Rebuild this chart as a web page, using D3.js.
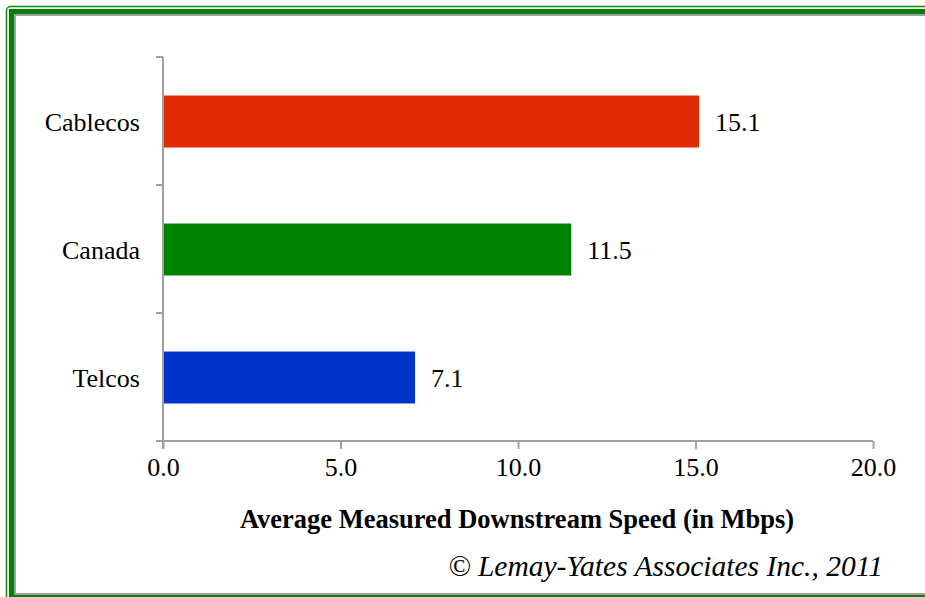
<!DOCTYPE html>
<html>
<head>
<meta charset="utf-8">
<script src="https://cdn.jsdelivr.net/npm/d3@7"></script>
<style>
  html, body { margin: 0; padding: 0; background: #fff; }
  svg { display: block; }
  text { font-family: "Liberation Serif", "Times New Roman", serif; fill: #000; }
</style>
</head>
<body>
<svg id="chart" width="925" height="597"></svg>
<script>
// Average measured downstream speed by provider group
const categories = ["Cablecos", "Canada", "Telcos"];
const speeds = [15.1, 11.5, 7.1];
const barColors = ["#E12A06", "#008000", "#0132CC"];
const xTicks = [0, 5, 10, 15, 20];
const xTitle = "Average Measured Downstream Speed (in Mbps)";
const credit = "\u00A9 Lemay-Yates Associates Inc., 2011";

const svg = d3.select("#chart");

// Frame: thin outer green line, thick green band, grey inner edge
svg.append("rect").attr("x", 6.5).attr("y", 6.5).attr("width", 960).attr("height", 640)
  .attr("rx", 4).attr("fill", "none").attr("stroke", "#0A8A0A").attr("stroke-width", 1.5);
svg.append("rect").attr("x", 11.5).attr("y", 11.5).attr("width", 960).attr("height", 586)
  .attr("fill", "none").attr("stroke", "#008000").attr("stroke-width", 5);
svg.append("rect").attr("x", 15).attr("y", 15).attr("width", 960).attr("height", 579)
  .attr("fill", "none").attr("stroke", "#A0A0A0").attr("stroke-width", 2);

const x = d3.scaleLinear().domain([0, 20]).range([163, 873]);
const y = d3.scaleBand().domain(categories).range([57.5, 441.5])
  .paddingInner(0.594).paddingOuter(0.297);

const axisColor = "#A0A0A0";
const labelSize = 26;

// Bars
svg.append("g").selectAll("rect").data(categories).join("rect")
  .attr("x", x(0))
  .attr("y", d => y(d))
  .attr("width", (d, i) => x(speeds[i]) - x(0))
  .attr("height", y.bandwidth())
  .attr("fill", (d, i) => barColors[i]);

// Value labels
svg.append("g").selectAll("text").data(categories).join("text")
  .attr("x", (d, i) => x(speeds[i]) + 16)
  .attr("y", d => y(d) + y.bandwidth() / 2)
  .attr("dy", "0.35em")
  .attr("font-size", labelSize)
  .text((d, i) => speeds[i].toFixed(1));

// Y axis: line with ticks at category boundaries
const yAxisG = svg.append("g");
yAxisG.append("line").attr("x1", x(0)).attr("x2", x(0)).attr("y1", 57).attr("y2", 449)
  .attr("stroke", axisColor).attr("stroke-width", 2);
const boundaries = [57, 57 + y.step(), 57 + 2 * y.step()];
yAxisG.selectAll("line.tick").data(boundaries).join("line").attr("class", "tick")
  .attr("x1", 156).attr("x2", x(0)).attr("y1", d => d).attr("y2", d => d)
  .attr("stroke", axisColor).attr("stroke-width", 2);
yAxisG.selectAll("text").data(categories).join("text")
  .attr("x", 140).attr("y", d => y(d) + y.bandwidth() / 2)
  .attr("dy", "0.35em").attr("text-anchor", "end").attr("font-size", labelSize)
  .text(d => d);

// X axis
const xAxisG = svg.append("g").attr("transform", "translate(0,441)")
  .call(d3.axisBottom(x).tickValues(xTicks).tickSize(8).tickPadding(9)
    .tickFormat(d3.format(".1f")));
xAxisG.select(".domain").attr("d", `M156,0H${x(20)}`).attr("stroke", axisColor).attr("stroke-width", 2);
xAxisG.selectAll(".tick line").attr("stroke", axisColor).attr("stroke-width", 2);
xAxisG.selectAll(".tick text").attr("font-size", labelSize)
  .attr("font-family", "'Liberation Serif', 'Times New Roman', serif").attr("fill", "#000");

// Axis title
svg.append("text").attr("x", 517).attr("y", 528).attr("text-anchor", "middle")
  .attr("font-size", 26.5).attr("font-weight", "bold").text(xTitle);

// Credit line
svg.append("text").attr("x", 883).attr("y", 576).attr("text-anchor", "end")
  .attr("font-size", 29.5).attr("font-style", "italic").text(credit);
</script>
</body>
</html>
